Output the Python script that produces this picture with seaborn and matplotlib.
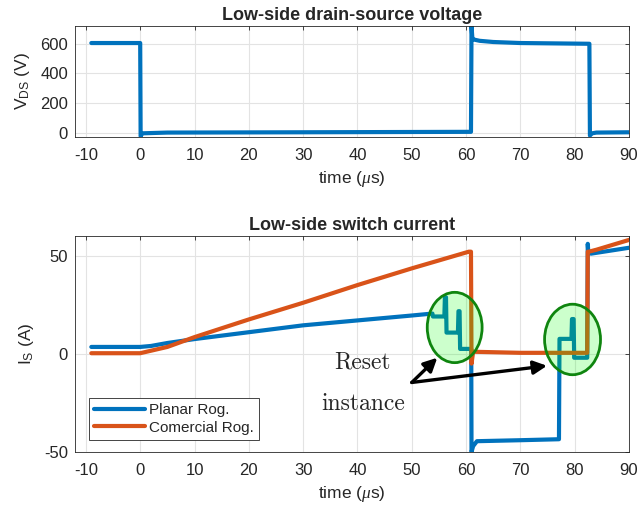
import numpy as np
import pandas as pd
import matplotlib
matplotlib.use("Agg")
import matplotlib.pyplot as plt
from matplotlib.patches import Ellipse
import seaborn as sns

# Low-side drain-source voltage (V) vs time (us)
t_vds = [-9, 0.0, 0.08, 0.4, 5, 30, 60.9, 61.0, 61.15, 61.5, 62.5, 65, 70, 82.7, 82.8, 83.2, 84, 90]
vds = [605, 605, -25, -5, 0, 2, 5, 720, 640, 628, 620, 612, 605, 600, -20, -5, 0, 2]

# Planar Rogowski current (A)
t_planar = [-9, 0, 2, 5, 10, 20, 30, 40, 50, 53.8, 53.9, 56.0, 56.1, 56.3, 56.4, 58.5, 58.6, 58.8, 58.9,
            60.95, 61.0, 61.3, 62, 70, 77.1, 77.2, 79.4, 79.5, 79.8, 79.9, 82.3, 82.4, 82.5, 83, 90]
i_planar = [3.5, 3.5, 4, 5.5, 7.5, 11, 14.5, 17, 19.5, 20.5, 19, 19, 28.8, 28.8, 10.8, 10.8, 21.7, 21.7, 2.5,
            2.5, -50, -47, -44.5, -44, -43.5, 7.6, 7.6, 17.7, 17.7, -2, -2, 56, 52, 51, 54]

# Commercial Rogowski current (A)
t_comm = [-9, 0, 5, 10, 20, 30, 40, 50, 60.5, 60.9, 61.0, 61.3, 62, 70, 82.3, 82.4, 82.6, 84, 90]
i_comm = [0.3, 0.3, 3.5, 8.5, 17.5, 26, 35, 43.5, 52, 52, -5, 1, 1, 0.5, 0.5, 52, 52, 53, 58]

# annotation geometry (data units)
ellipses = [(57.9, 13.4, 10.1, 35.8), (79.6, 7.3, 10.3, 35.9)]
arrow_tail = (50.0, -14.6)
arrow_heads = [(54.7, -2.0), (74.9, -6.1)]

blue = "#0072BD"
orange = "#D95319"
grey = "#262626"

sns.set_theme(style="white")
plt.rcParams["font.family"] = ["Liberation Sans", "DejaVu Sans"]
plt.rcParams["mathtext.fontset"] = "custom"
plt.rcParams["mathtext.rm"] = "Liberation Sans"
plt.rcParams["mathtext.it"] = "Liberation Serif:italic"
plt.rcParams["axes.unicode_minus"] = False

fig = plt.figure(figsize=(6.39, 5.12), dpi=100)
ax1 = fig.add_axes([0.1174, 0.7324, 0.867, 0.2168])
ax2 = fig.add_axes([0.1174, 0.1172, 0.867, 0.4219])

df_v = pd.DataFrame({"t": t_vds, "v": vds})
sns.lineplot(data=df_v, x="t", y="v", ax=ax1, color=blue, linewidth=3.0,
             estimator=None, sort=False)

df_p = pd.DataFrame({"t": t_planar, "i": i_planar})
df_c = pd.DataFrame({"t": t_comm, "i": i_comm})
sns.lineplot(data=df_p, x="t", y="i", ax=ax2, color=blue, linewidth=3.0,
             estimator=None, sort=False, label="Planar Rog.")
sns.lineplot(data=df_c, x="t", y="i", ax=ax2, color=orange, linewidth=3.0,
             estimator=None, sort=False, label="Comercial Rog.")

for ax in (ax1, ax2):
    ax.set_xlim(-12, 90)
    ax.set_xticks(np.arange(-10, 91, 10))
    ax.grid(True, color="#e3e3e3", linewidth=0.8)
    ax.set_axisbelow(True)
    ax.tick_params(direction="in", top=True, right=True, length=3, width=0.6,
                   colors=grey, labelsize=12, labelcolor=grey)
    ax.tick_params(axis="x", pad=8)
    ax.tick_params(axis="y", pad=5)
    for s in ax.spines.values():
        s.set_color(grey)
        s.set_linewidth(0.6)
    ax.set_xlabel(r"time ($\mu$s)", fontsize=12.5, color=grey, labelpad=4)

ax1.set_ylim(-30, 720)
ax1.set_yticks([0, 200, 400, 600])
ax1.set_ylabel(r"V$_{\mathrm{DS}}$ (V)", fontsize=12.5, color=grey, labelpad=6)
ax1.set_title("Low-side drain-source voltage", fontsize=13, fontweight="bold", pad=4)

ax2.set_ylim(-50, 60)
ax2.set_yticks([-50, 0, 50])
ax2.set_ylabel(r"I$_{\mathrm{S}}$ (A)", fontsize=12.5, color=grey, labelpad=6)
ax2.set_title("Low-side switch current", fontsize=13, fontweight="bold", pad=4)

for cx, cy, w, h in ellipses:
    ax2.add_patch(Ellipse((cx, cy), w, h, facecolor=(0.0, 1.0, 0.0, 0.2),
                          edgecolor="#0f850f", linewidth=2.0, zorder=5))

for hx, hy in arrow_heads:
    ax2.annotate("", xy=(hx, hy), xytext=arrow_tail,
                 arrowprops=dict(arrowstyle="-|>", lw=2.4, color="black",
                                 mutation_scale=20, shrinkA=0, shrinkB=0), zorder=6)

ax2.text(41.0, -4.5, "Reset", fontfamily="cmr10", fontsize=17, ha="center", va="center")
ax2.text(41.0, -25.3, "instance", fontfamily="cmr10", fontsize=17, ha="center", va="center")

leg = ax2.legend(loc="lower left", bbox_to_anchor=(0.025, 0.055), borderaxespad=0,
                 fancybox=False, edgecolor=grey, framealpha=1, fontsize=11,
                 handlelength=3.3, handletextpad=0.3, labelspacing=0.25,
                 borderpad=0.35)
leg.get_frame().set_linewidth(0.6)

fig.savefig("out.png", dpi=100)
